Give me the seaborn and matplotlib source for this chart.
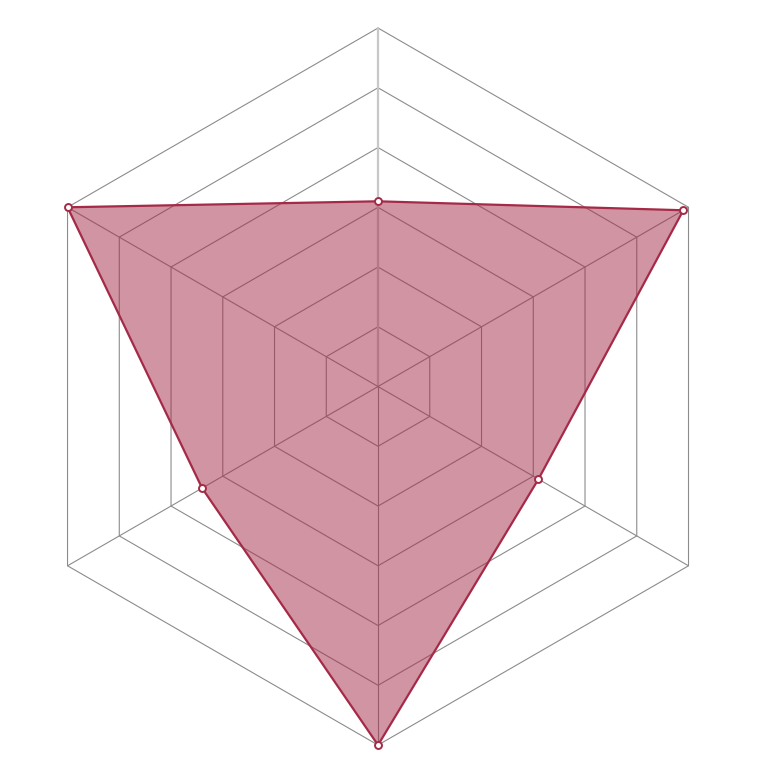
import numpy as np
import pandas as pd
import matplotlib
matplotlib.use("Agg")
import matplotlib.pyplot as plt
import seaborn as sns

# Data (clockwise from the top axis)
categories = ["A", "B", "C", "D", "E", "F"]
values = [3.1, 5.9, 3.1, 6.0, 3.4, 6.0]
ring_levels = [1, 2, 3, 4, 5, 6]
r_max = 6

sns.set_theme(style="white")

fig = plt.figure(figsize=(7.74, 7.74), dpi=100)
ax = fig.add_axes([0.0252, 0.0374, 0.9264, 0.9264], projection="polar")
ax.set_theta_offset(np.pi / 2)
ax.set_theta_direction(-1)
ax.set_ylim(0, r_max)
ax.set_axis_off()

n = len(categories)
angles = np.linspace(0, 2 * np.pi, n, endpoint=False)
closed_angles = np.append(angles, angles[0] + 2 * np.pi)

grid_color = "#8c8c8c"
# hexagonal rings
for lvl in ring_levels:
    ax.plot(closed_angles, [lvl] * (n + 1), color=grid_color, lw=0.8, zorder=1, clip_on=False)
# spokes
for i, a in enumerate(angles):
    if i == 0:
        ax.plot([a, a], [0, r_max], color="#c8c8c8", lw=1.6, zorder=1, clip_on=False)
    else:
        ax.plot([a, a], [0, r_max], color=grid_color, lw=0.8, zorder=1, clip_on=False)

df = pd.DataFrame({
    "category": categories + [categories[0]],
    "theta": closed_angles,
    "value": values + [values[0]],
})

color = "#a52a47"
ax.fill(df["theta"], df["value"], color=color, alpha=0.5, lw=0, zorder=2, clip_on=False)
sns.lineplot(data=df, x="theta", y="value", sort=False, ax=ax, color=color,
             lw=1.6, zorder=3, clip_on=False)
ax.plot(angles, values, ls="none", marker="o", markersize=5, markerfacecolor="white",
        markeredgecolor=color, markeredgewidth=1.4, zorder=4, clip_on=False)
ax.set_axis_off()

fig.savefig("out.png", dpi=100)
